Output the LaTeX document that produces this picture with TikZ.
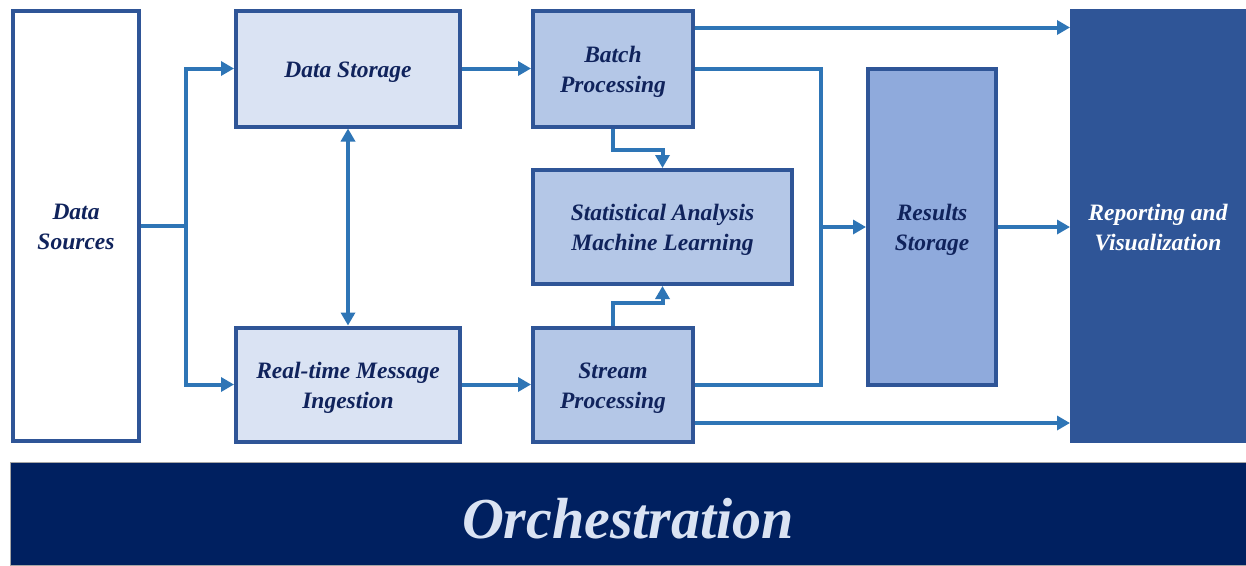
\documentclass[tikz,border=0pt]{standalone}
\usepackage{fontspec}
\setmainfont{Liberation Serif}
\usetikzlibrary{arrows.meta,calc}
\definecolor{edgeblue}{HTML}{2F5597}
\definecolor{linkblue}{HTML}{2E75B6}
\definecolor{fillA}{HTML}{DAE3F3}
\definecolor{fillB}{HTML}{B4C7E7}
\definecolor{fillC}{HTML}{8FAADC}
\definecolor{navy}{HTML}{002060}
\definecolor{txt}{HTML}{10235C}
\begin{document}
\begin{tikzpicture}[x=1pt,y=-1pt,
  box/.style={draw=edgeblue,line width=4pt,rectangle,inner sep=2pt},
  tx/.style={align=center,inner sep=0pt,font=\fontsize{23.5}{30}\selectfont\bfseries\itshape,text=txt},
  arr/.style={draw=linkblue,line width=4pt,-{Triangle[length=13pt,width=14pt]}},
  link/.style={draw=linkblue,line width=4pt},
  biarr/.style={draw=linkblue,line width=4pt,{Triangle[length=13pt,width=14pt]}-{Triangle[length=13pt,width=14pt]}}]
\useasboundingbox (0,0) rectangle (1246,565);
\fill[white] (0,0) rectangle (1246,565);
\node[box,fill=white,minimum width=126pt,minimum height=430pt,
  label={[tx,yshift=-1pt]center:Data\\Sources}] (src) at (76,226) {};
\node[box,fill=fillA,minimum width=224pt,minimum height=116pt,
  label={[tx,yshift=-4pt]center:Data Storage}] (dstore) at (348,68.5) {};
\node[box,fill=fillA,minimum width=224pt,minimum height=114pt,
  label={[tx,yshift=-3.5pt]center:Real-time Message\\Ingestion}] (rt) at (348,384.5) {};
\node[box,fill=fillB,minimum width=160pt,minimum height=116pt,
  label={[tx,yshift=-3.5pt]center:Batch\\Processing}] (batch) at (613,68.5) {};
\node[box,fill=fillB,minimum width=259pt,minimum height=114pt,
  label={[tx,yshift=-3pt]center:Statistical Analysis\\Machine Learning}] (stat) at (662.5,227) {};
\node[box,fill=fillB,minimum width=160pt,minimum height=114pt,
  label={[tx,yshift=-3.5pt]center:Stream\\Processing}] (stream) at (613,384.5) {};
\node[box,fill=fillC,minimum width=128pt,minimum height=316pt,
  label={[tx,yshift=-3pt]center:Results\\Storage}] (res) at (932,227) {};
\node[box,draw=none,outer sep=0pt,fill=edgeblue,minimum width=176pt,minimum height=434pt,
  label={[tx,text=white,yshift=-1.5pt]center:Reporting and\\Visualization}] (rep) at (1158,226) {};
\node[rectangle,fill=navy,draw=gray!70,line width=1pt,minimum width=1236pt,minimum height=103pt,
  text height=50pt,text depth=0pt,
  font=\fontsize{58}{60}\selectfont\bfseries\itshape,text=fillA] (orch) at (628,513.5) {Orchestration};
\coordinate (j1) at (186,226);
\draw[link] (src.east) -- (j1);
\draw[arr] (j1) |- (dstore.west);
\draw[arr] (j1) |- (rt.west);
\draw[arr] (dstore.east) -- (batch.west);
\draw[arr] (rt.east) -- (stream.west);
\draw[biarr] (dstore.south) -- (rt.north);
\draw[arr] ([yshift=-19pt]batch.north east) -- ([yshift=-19pt]batch.north east -| rep.west);
\coordinate (c1) at (821,227);
\draw[link] (batch.east) -| (c1) |- (stream.east);
\draw[arr] (c1) -- (res.west);
\draw[arr] (batch.south) -- ++(0,21) -| (stat.north);
\draw[arr] (stream.north) -- ++(0,-23) -| (stat.south);
\draw[arr] ([yshift=20.5pt]stream.south east) -- ([yshift=20.5pt]stream.south east -| rep.west);
\draw[arr] (res.east) -- (res.east -| rep.west);
\end{tikzpicture}
\end{document}
